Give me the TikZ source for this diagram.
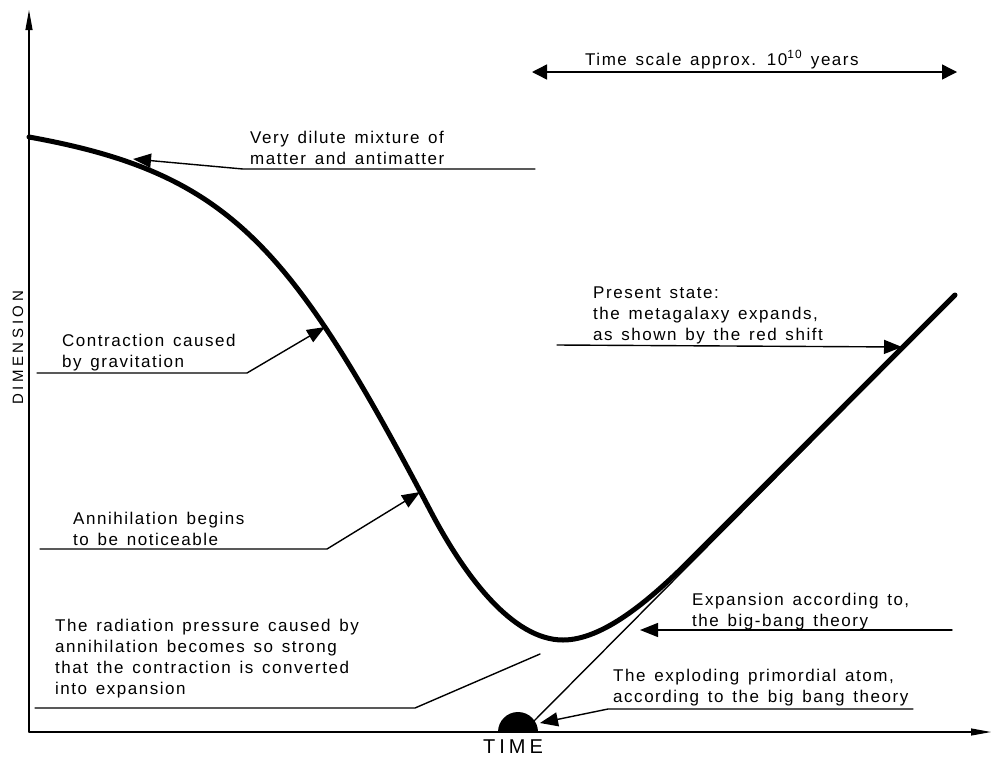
\documentclass[tikz,border=0pt]{standalone}
\usepackage{fontspec}
\setmainfont{Liberation Sans}[LetterSpace=9,WordSpace=1.4]
\usetikzlibrary{arrows.meta}

\begin{document}
\begin{tikzpicture}[x=1pt,y=-1pt,line cap=round,
  lbl/.style={font=\fontsize{17}{21}\selectfont,align=left,inner sep=0pt,anchor=base west},
  leadline/.style={line width=1.4pt,line join=round},
  lead/.style={leadline,-{Triangle[length=18pt,width=14pt]}},
  axis/.style={line width=1.1pt,-{Triangle[length=20pt,width=7pt]}},
  curve/.style={line width=5pt,line join=round}]
  \useasboundingbox (0,0) rectangle (995,758);
  % axes
  \coordinate (O) at (29,732);
  \coordinate (ytop) at (29,10);
  \coordinate (xend) at (991,732);
  \draw[axis] (O) -- (ytop);
  \draw[axis] (O) -- (xend);
  \node[font=\fontsize{15}{15}\selectfont\addfontfeatures{LetterSpace=24},rotate=90] (dim) at (18,348) {DIMENSION};
  \node[font=\fontsize{20}{20}\selectfont\addfontfeatures{LetterSpace=20}] (time) at (513,747) {TIME};
  % time scale
  \node[lbl] (ts) at (585,65) {Time scale approx. 10\textsuperscript{10}\ years};
  \coordinate (tsL) at (532,72);
  \coordinate (tsR) at (957,72);
  \draw[leadline,{Triangle[length=15pt,width=15pt]}-{Triangle[length=15pt,width=15pt]}] (tsL) -- (tsR);
  % dimension against time
  \draw[curve] (29,137) .. controls (229,173) and (290,244) .. (430,510)
    .. controls (465,577) and (513,640) .. (563,640)
    .. controls (603,640) and (650,600) .. (690,560) -- (955,295);
  \coordinate (atom) at (533,722);
  \coordinate (bbtop) at (948,304);
  \fill (498,732) arc[start angle=180,end angle=360,radius=20] -- cycle;
  \draw[leadline] (atom) -- (bbtop);
  % labels
  \node[lbl] (vd) at (250,164) {Very dilute mixture of\\matter and antimatter};
  \node[lbl] (cg) at (62,367) {Contraction caused\\by gravitation};
  \node[lbl] (an) at (73,545) {Annihilation begins\\to be noticeable};
  \node[lbl] (rp) at (55,694) {The radiation pressure caused by\\annihilation becomes so strong\\that the contraction is converted\\into expansion};
  \node[lbl] (ps) at (593,340) {Present state:\\the metagalaxy expands,\\as shown by the red shift};
  \node[lbl] (ex) at (692,626) {Expansion according to,\\the big-bang theory};
  \node[lbl] (pa) at (613,702) {The exploding primordial atom,\\according to the big bang theory};
  % leads
  \coordinate (vdR) at (535,169); \coordinate (vdL) at (243,169); \coordinate (vdT) at (133,159);
  \coordinate (cgL) at (37,373); \coordinate (cgR) at (247,373); \coordinate (cgT) at (325,327);
  \coordinate (anL) at (40,549); \coordinate (anR) at (327,549); \coordinate (anT) at (420,492);
  \coordinate (rpL) at (35,708); \coordinate (rpR) at (415,708); \coordinate (rpT) at (540,654);
  \coordinate (psL) at (557,345); \coordinate (psT) at (902,347);
  \coordinate (exR) at (952,630); \coordinate (exT) at (640,630);
  \coordinate (paR) at (913,709); \coordinate (paL) at (608,709); \coordinate (paT) at (540,723);
  \draw[lead] (vdR) -- (vdL) -- (vdT);
  \draw[lead] (cgL) -- (cgR) -- (cgT);
  \draw[lead] (anL) -- (anR) -- (anT);
  \draw[leadline] (rpL) -- (rpR) -- (rpT);
  \draw[lead] (psL) -- (psT);
  \draw[lead] (exR) -- (exT);
  \draw[lead] (paR) -- (paL) -- (paT);
\end{tikzpicture}
\end{document}
